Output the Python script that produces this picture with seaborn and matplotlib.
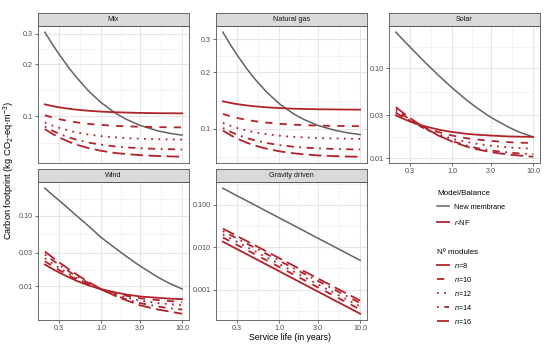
import numpy as np
import pandas as pd
import seaborn as sns
import matplotlib.pyplot as plt
from matplotlib.lines import Line2D
from matplotlib.ticker import FixedLocator, FixedFormatter, NullFormatter

service_life = [0.2, 0.25, 0.3, 0.4, 0.5, 0.7, 1, 1.5, 2, 3, 5, 7, 10]
modules = ["n=8", "n=10", "n=12", "n=14", "n=16"]
panels = ["Mix", "Natural gas", "Solar", "Wind", "Gravity driven"]

mix_new = [0.307, 0.260, 0.229, 0.190, 0.167, 0.140, 0.120, 0.1044, 0.0967, 0.0889, 0.0826, 0.0800, 0.0780]
mix_rnf = [[0.1175, 0.1148, 0.1130, 0.1108, 0.1094, 0.1079, 0.1067, 0.1058, 0.1054, 0.1049, 0.1045, 0.1044, 0.1043],
           [0.1017, 0.0986, 0.0965, 0.0940, 0.0924, 0.0906, 0.0893, 0.0883, 0.0878, 0.0872, 0.0868, 0.0866, 0.0865],
           [0.0924, 0.0885, 0.0860, 0.0828, 0.0808, 0.0786, 0.0770, 0.0757, 0.0750, 0.0744, 0.0739, 0.0737, 0.0735],
           [0.0873, 0.0826, 0.0795, 0.0756, 0.0733, 0.0706, 0.0687, 0.0671, 0.0663, 0.0656, 0.0649, 0.0647, 0.0645],
           [0.0845, 0.0792, 0.0757, 0.0713, 0.0686, 0.0656, 0.0633, 0.0615, 0.0607, 0.0598, 0.0591, 0.0588, 0.0585]]

gas_new = [0.326, 0.2785, 0.2468, 0.2073, 0.1835, 0.1564, 0.1360, 0.1202, 0.1123, 0.1043, 0.0980, 0.0953, 0.0933]
gas_rnf = [[0.1400, 0.1372, 0.1354, 0.1331, 0.1317, 0.1301, 0.1290, 0.1280, 0.1276, 0.1271, 0.1268, 0.1266, 0.1265],
           [0.1200, 0.1166, 0.1143, 0.1115, 0.1098, 0.1079, 0.1064, 0.1053, 0.1047, 0.1041, 0.1037, 0.1035, 0.1033],
           [0.1076, 0.1037, 0.1011, 0.0979, 0.0959, 0.0937, 0.0920, 0.0907, 0.0901, 0.0894, 0.0889, 0.0887, 0.0885],
           [0.1012, 0.0964, 0.0932, 0.0892, 0.0868, 0.0841, 0.0820, 0.0804, 0.0796, 0.0788, 0.0782, 0.0779, 0.0777],
           [0.0980, 0.0925, 0.0888, 0.0843, 0.0815, 0.0784, 0.0760, 0.0742, 0.0733, 0.0723, 0.0716, 0.0713, 0.0711]]

solar_new = [0.252, 0.2041, 0.1722, 0.1323, 0.1083, 0.0809, 0.0604, 0.0444, 0.0365, 0.0285, 0.0221, 0.0193, 0.0173]
solar_rnf = [[0.0300, 0.0274, 0.0256, 0.0235, 0.0222, 0.0207, 0.0196, 0.0187, 0.0183, 0.0179, 0.0175, 0.0174, 0.0173],
             [0.0320, 0.0284, 0.0261, 0.0232, 0.0214, 0.0194, 0.0179, 0.0167, 0.0162, 0.0156, 0.0151, 0.0149, 0.0148],
             [0.0330, 0.0289, 0.0261, 0.0227, 0.0206, 0.0183, 0.0165, 0.0152, 0.0145, 0.0138, 0.0132, 0.0130, 0.0128],
             [0.0350, 0.0301, 0.0269, 0.0228, 0.0204, 0.0176, 0.0155, 0.0139, 0.0130, 0.0122, 0.0116, 0.0113, 0.0111],
             [0.0371, 0.0316, 0.0280, 0.0235, 0.0208, 0.0177, 0.0153, 0.0135, 0.0126, 0.0117, 0.0110, 0.0107, 0.0104]]

wind_new = [0.245, 0.196, 0.165, 0.124, 0.099, 0.071, 0.049, 0.0345, 0.027, 0.0195, 0.0135, 0.0110, 0.0092]
wind_rnf = [[0.0204, 0.0176, 0.0157, 0.0134, 0.0119, 0.0103, 0.0091, 0.0082, 0.0077, 0.0072, 0.0069, 0.0067, 0.0066],
            [0.0227, 0.0193, 0.0170, 0.0142, 0.0125, 0.0106, 0.0091, 0.0080, 0.0074, 0.0068, 0.0064, 0.0062, 0.0060],
            [0.0250, 0.0210, 0.0183, 0.0150, 0.0130, 0.0107, 0.0090, 0.0077, 0.0070, 0.0063, 0.0058, 0.0056, 0.0054],
            [0.0282, 0.0234, 0.0202, 0.0162, 0.0138, 0.0111, 0.0090, 0.0074, 0.0066, 0.0058, 0.0052, 0.0049, 0.0047],
            [0.0311, 0.0256, 0.0219, 0.0174, 0.0146, 0.0115, 0.0091, 0.0073, 0.0064, 0.0054, 0.0047, 0.0044, 0.0041]]

gravity_new = [0.245, 0.196, 0.163, 0.1225, 0.098, 0.070, 0.049, 0.0327, 0.0245, 0.0163, 0.0098, 0.0070, 0.0049]
gravity_rnf = [[0.0135, 0.0108, 0.0090, 0.00675, 0.0054, 0.00386, 0.0027, 0.0018, 0.00135, 0.0009, 0.00054, 0.000386, 0.00027],
               [0.0170, 0.0136, 0.0113, 0.0085, 0.0068, 0.00486, 0.0034, 0.00227, 0.0017, 0.00113, 0.00068, 0.000486, 0.00034],
               [0.0200, 0.0160, 0.0133, 0.0100, 0.0080, 0.00571, 0.0040, 0.00267, 0.0020, 0.00133, 0.0008, 0.000571, 0.0004],
               [0.0240, 0.0192, 0.0160, 0.0120, 0.0096, 0.00686, 0.0048, 0.0032, 0.0024, 0.0016, 0.00096, 0.000686, 0.00048],
               [0.0275, 0.0220, 0.0183, 0.01375, 0.0110, 0.00786, 0.0055, 0.00367, 0.00275, 0.00183, 0.0011, 0.000786, 0.00055]]

x_ticks = [0.3, 1.0, 3.0, 10.0]
x_tick_labels = ["0.3", "1.0", "3.0", "10.0"]
y_ticks = {"Mix": [0.1, 0.2, 0.3], "Natural gas": [0.1, 0.2, 0.3],
           "Solar": [0.01, 0.03, 0.1], "Wind": [0.01, 0.03, 0.1],
           "Gravity driven": [0.001, 0.01, 0.1]}
y_tick_labels = {"Mix": ["0.1", "0.2", "0.3"], "Natural gas": ["0.1", "0.2", "0.3"],
                 "Solar": ["0.01", "0.03", "0.10"], "Wind": ["0.01", "0.03", "0.10"],
                 "Gravity driven": ["0.001", "0.010", "0.100"]}

news = [mix_new, gas_new, solar_new, wind_new, gravity_new]
rnfs = [mix_rnf, gas_rnf, solar_rnf, wind_rnf, gravity_rnf]

rows = []
for p, new, rnf in zip(panels, news, rnfs):
    for x, y in zip(service_life, new):
        rows.append((p, "New membrane", x, y))
    for m, vals in zip(modules, rnf):
        for x, y in zip(service_life, vals):
            rows.append((p, m, x, y))
df = pd.DataFrame(rows, columns=["panel", "curve", "life", "footprint"])

GREY = "#636363"
RED = "#B2222B"
dashes = {"n=8": "", "n=10": (4, 4), "n=12": (1, 3), "n=14": (1, 3, 4, 3), "n=16": (7, 3)}

plt.rcParams["font.family"] = ["Liberation Sans", "DejaVu Sans"]
plt.rcParams["mathtext.fontset"] = "custom"
plt.rcParams["mathtext.rm"] = "Liberation Sans"
plt.rcParams["mathtext.it"] = "Liberation Sans:italic"

fig = plt.figure(figsize=(5.5, 3.46), dpi=100)
W, H = 550, 346

cols = [(38, 189), (216, 367), (389, 540)]
rows_px = [((13, 26), (26, 163)), ((169, 182), (182, 320))]
layout = {"Mix": (0, 0), "Natural gas": (0, 1), "Solar": (0, 2),
          "Wind": (1, 0), "Gravity driven": (1, 1)}
no_x_labels = ["Mix", "Natural gas"]


def minor_breaks(major, lo, hi):
    b = list(np.log10(major))
    bd = b[1] - b[0]
    if lo < b[0]:
        b = [b[0] - bd] + b
    if hi > b[-1]:
        b = b + [b[-1] + bd]
    mids = [(a + c) / 2 for a, c in zip(b[:-1], b[1:])]
    return [10 ** m for m in mids if lo <= m <= hi]


def log_limits(vals):
    lo, hi = np.log10(min(vals)), np.log10(max(vals))
    pad = (hi - lo) * 0.05
    return lo - pad, hi + pad


for p in panels:
    r, c = layout[p]
    (s0, s1), (p0, p1) = rows_px[r]
    x0, x1 = cols[c]
    ax = fig.add_axes([x0 / W, 1 - p1 / H, (x1 - x0) / W, (p1 - p0) / H])
    sub = df[df.panel == p]
    sns.lineplot(data=sub[sub.curve == "New membrane"], x="life", y="footprint",
                 color=GREY, linewidth=1.1, estimator=None, ax=ax, legend=False)
    sns.lineplot(data=sub[sub.curve != "New membrane"], x="life", y="footprint",
                 hue="curve", style="curve", palette={m: RED for m in modules},
                 dashes=dashes, linewidth=1.3, estimator=None, ax=ax, legend=False)
    ax.set_xscale("log")
    ax.set_yscale("log")
    xl = log_limits(service_life)
    yl = log_limits(sub.footprint)
    ax.set_xlim(10 ** xl[0], 10 ** xl[1])
    ax.set_ylim(10 ** yl[0], 10 ** yl[1])
    ax.xaxis.set_major_locator(FixedLocator(x_ticks))
    ax.xaxis.set_major_formatter(FixedFormatter(x_tick_labels))
    ax.xaxis.set_minor_locator(FixedLocator(minor_breaks(x_ticks, *xl)))
    ax.yaxis.set_major_locator(FixedLocator(y_ticks[p]))
    ax.yaxis.set_major_formatter(FixedFormatter(y_tick_labels[p]))
    ax.yaxis.set_minor_locator(FixedLocator(minor_breaks(y_ticks[p], *yl)))
    ax.xaxis.set_minor_formatter(NullFormatter())
    ax.yaxis.set_minor_formatter(NullFormatter())
    ax.grid(which="major", color="#E6E6E6", linewidth=0.8)
    ax.grid(which="minor", color="#EFEFEF", linewidth=0.5)
    ax.set_axisbelow(True)
    ax.tick_params(which="major", length=2.2, width=0.5, color="#333333",
                   labelsize=5.2, labelcolor="#4D4D4D", pad=1.5)
    ax.tick_params(which="minor", length=0)
    if p in no_x_labels:
        ax.tick_params(axis="x", which="major", length=0, labelbottom=False)
    ax.set_xlabel("")
    ax.set_ylabel("")
    for sp in ax.spines.values():
        sp.set_color("#555555")
        sp.set_linewidth(0.6)
    # facet strip
    sa = fig.add_axes([x0 / W, 1 - s1 / H, (x1 - x0) / W, (s1 - s0) / H])
    sa.set_facecolor("#D9D9D9")
    sa.set_xticks([])
    sa.set_yticks([])
    for sp in sa.spines.values():
        sp.set_color("#555555")
        sp.set_linewidth(0.6)
    sa.text(0.5, 0.5, p, ha="center", va="center", fontsize=5.2, color="#1A1A1A",
            transform=sa.transAxes)

fig.text(290 / W, 1 - 338 / H, "Service life (in years)", ha="center", va="center",
         fontsize=6.3, color="#000000")
fig.text(9 / W, 1 - 171 / H, "Carbon footprint (kg CO$_2$-eq·m$^{-3}$)", ha="center",
         va="center", rotation=90, fontsize=6.7, color="#000000")

h1 = [Line2D([], [], color=GREY, lw=1.1), Line2D([], [], color=RED, lw=1.3)]
leg1 = fig.legend(h1, ["New membrane", "$r$-NF"], title="Model/Balance",
                  loc="upper left", bbox_to_anchor=(437 / W, 1 - 190 / H),
                  frameon=False, fontsize=5.2, title_fontsize=5.8, handlelength=1.6,
                  handletextpad=0.8, labelspacing=0.95, borderpad=0, borderaxespad=0,
                  alignment="left")

h2 = [Line2D([], [], color=RED, lw=1.3, linestyle=(0, dashes[m]) if dashes[m] else "-")
      for m in modules]
leg2 = fig.legend(h2, ["$n$=" + m[2:] for m in modules], title="Nº modules",
                  loc="upper left", bbox_to_anchor=(437 / W, 1 - 249 / H),
                  frameon=False, fontsize=5.2, title_fontsize=5.8, handlelength=1.6,
                  handletextpad=0.8, labelspacing=0.68, borderpad=0, borderaxespad=0,
                  alignment="left")

fig.savefig("out.png", dpi=100)
